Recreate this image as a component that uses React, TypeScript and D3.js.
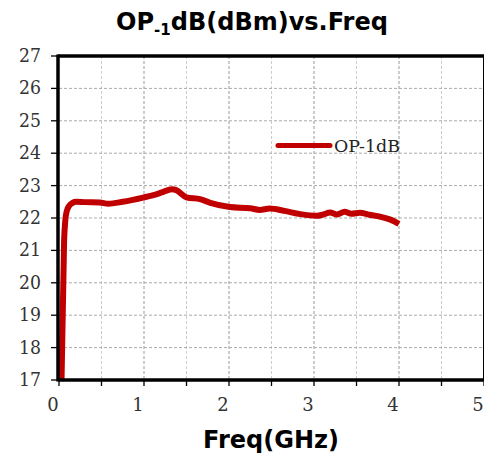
import React from "react";
import * as d3 from "d3";

const freq = [0.03, 0.06, 0.075, 0.09, 0.12, 0.16, 0.2, 0.3, 0.48, 0.58, 0.75, 0.99, 1.1, 1.2, 1.33, 1.38, 1.5, 1.66, 1.78, 2.01, 2.25, 2.36, 2.48, 2.65, 2.84, 3.03, 3.1, 3.19, 3.27, 3.36, 3.44, 3.54, 3.65, 3.78, 3.9, 4.0];
const op1db = [17, 21.3, 21.95, 22.2, 22.38, 22.47, 22.5, 22.49, 22.48, 22.44, 22.5, 22.63, 22.7, 22.78, 22.89, 22.86, 22.64, 22.58, 22.47, 22.34, 22.3, 22.25, 22.29, 22.22, 22.12, 22.07, 22.1, 22.17, 22.11, 22.19, 22.13, 22.16, 22.1, 22.04, 21.95, 21.82];
const xTicks = [0, 1, 2, 3, 4, 5];
const yTicks = [17, 18, 19, 20, 21, 22, 23, 24, 25, 26, 27];
const seriesName = "OP-1dB";

export default function App() {
  const W = 484, H = 457;
  const L = 59, R = 484, T = 56, B = 380;
  const x = d3.scaleLinear().domain([0, 5]).range([L, R]);
  const y = d3.scaleLinear().domain([17, 27]).range([B, T]);
  const line = d3.line<number>().x((_, i) => x(freq[i])).y((d) => y(d)).curve(d3.curveMonotoneX);
  const halfTicks = d3.range(0, 5.01, 0.5);
  const red = "#c00000";
  const serif = "'DejaVu Serif', serif";
  return (
    <svg width={W} height={H} style={{ position: "absolute", left: 0, top: 0, background: "#fff" }}>
      <rect x={0} y={0} width={W} height={H} fill="#fff" />
      {halfTicks.filter((v) => v > 0 && v < 5).map((v) => (
        <line key={"gx" + v} x1={x(v)} x2={x(v)} y1={T} y2={B}
          stroke={Number.isInteger(v) ? "#999" : "#ccc"} strokeWidth={1} strokeDasharray="3,2" />
      ))}
      {yTicks.filter((v) => v > 17 && v < 27).map((v) => (
        <line key={"gy" + v} x1={L} x2={R} y1={y(v)} y2={y(v)} stroke="#aaa" strokeWidth={1} strokeDasharray="3,2" />
      ))}
      <path d={line(op1db) || ""} fill="none" stroke={red} strokeWidth={6} strokeLinejoin="round" strokeLinecap="butt" />
      <line x1={R - 0.5} x2={R - 0.5} y1={T} y2={B} stroke="#000" strokeWidth={1} />
      <line x1={L - 1} x2={R} y1={T} y2={T} stroke="#000" strokeWidth={3.5} />
      <line x1={L - 1} x2={R} y1={B} y2={B} stroke="#000" strokeWidth={3.5} />
      <line x1={L - 1} x2={L - 1} y1={T - 1.5} y2={B + 1.5} stroke="#000" strokeWidth={3.5} />
      {yTicks.map((v) => (
        <g key={"yt" + v}>
          <line x1={L - 8} x2={L} y1={y(v)} y2={y(v)} stroke="#000" strokeWidth={1.3} />
          <text x={41} y={y(v) + 6} textAnchor="end" fontFamily={serif} fontSize={18} fill="#333" textLength={22} lengthAdjust="spacingAndGlyphs">{v}</text>
        </g>
      ))}
      {halfTicks.map((v) => (
        <line key={"xt" + v} x1={x(v)} x2={x(v)} y1={B} y2={B + 6} stroke="#000" strokeWidth={1.3} />
      ))}
      {xTicks.map((v) => (
        <text key={"xl" + v} x={x(v) - 6} y={411} textAnchor="middle" fontFamily={serif} fontSize={18} fill="#333">{v}</text>
      ))}
      <line x1={278} x2={330} y1={145.5} y2={145.5} stroke={red} strokeWidth={5} strokeLinecap="round" />
      <text x={334} y={152} fontFamily={serif} fontSize={17} fill="#222" textLength={66} lengthAdjust="spacingAndGlyphs">{seriesName}</text>
      <text x={252} y={30} textAnchor="middle" fontFamily="'DejaVu Sans', sans-serif" fontWeight="bold" fontSize={24} fill="#000">
        OP<tspan fontSize={15} dy={5}>-1</tspan><tspan dy={-5}>dB(dBm)vs.Freq</tspan>
      </text>
      <text x={271} y={448} textAnchor="middle" fontFamily="'DejaVu Sans', sans-serif" fontWeight="bold" fontSize={24} fill="#000">Freq(GHz)</text>
    </svg>
  );
}
